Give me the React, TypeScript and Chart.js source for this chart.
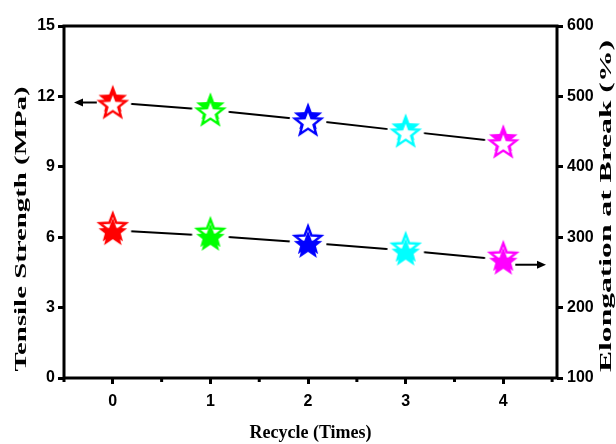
import React, { useEffect, useRef } from "react";
import { Chart, registerables } from "chart.js";
Chart.register(...registerables);

const recycleTimes = [0, 1, 2, 3, 4];
const xTickLabels = ["0", "1", "2", "3", "4"];
const tensileStrength = [11.74, 11.42, 10.99, 10.52, 10.06];
const elongationAtBreak = [310, 302, 292, 281, 268];
const pointColors = ["#ff0000", "#00ff00", "#0000ff", "#00ffff", "#ff00ff"];
const leftTickValues = [0, 3, 6, 9, 12, 15];
const rightTickValues = [100, 200, 300, 400, 500, 600];
const xTitle = "Recycle (Times)";
const leftTitle = "Tensile Strength (MPa)";
const rightTitle = "Elongation at Break (%)";

function starPath(ctx: CanvasRenderingContext2D, cx: number, cy: number, R: number, r: number) {
  ctx.beginPath();
  for (let i = 0; i < 10; i++) {
    const rad = i % 2 === 0 ? R : r;
    const a = -Math.PI / 2 + (i * Math.PI) / 5;
    const x = cx + rad * Math.cos(a);
    const y = cy + rad * Math.sin(a);
    if (i === 0) ctx.moveTo(x, y);
    else ctx.lineTo(x, y);
  }
  ctx.closePath();
}

function makeMarker(color: string, filledOnTop: boolean) {
  const size = 46;
  const c = document.createElement("canvas");
  c.width = size;
  c.height = size;
  const ctx = c.getContext("2d")!;
  const cx = size / 2;
  const cy = size / 2;
  ctx.fillStyle = "#ffffff";
  ctx.beginPath();
  ctx.arc(cx, cy, 18.5, 0, Math.PI * 2);
  ctx.fill();
  const R = 15;
  const off = 2.8;
  const filled = () => {
    starPath(ctx, cx, cy + (filledOnTop ? -off : off), R, R * 0.42);
    ctx.fillStyle = color;
    ctx.fill();
  };
  const open = () => {
    starPath(ctx, cx, cy + (filledOnTop ? off : -off), R - 1.2, (R - 1.2) * 0.42);
    ctx.fillStyle = "#ffffff";
    ctx.fill();
    ctx.lineWidth = 2.4;
    ctx.strokeStyle = color;
    ctx.lineJoin = "miter";
    ctx.stroke();
  };
  if (filledOnTop) {
    filled();
    open();
  } else {
    open();
    filled();
  }
  return c;
}

function arrow(ctx: CanvasRenderingContext2D, x1: number, y1: number, x2: number, y2: number) {
  const ang = Math.atan2(y2 - y1, x2 - x1);
  const L = 9;
  const W = 4;
  const bx = x2 - L * Math.cos(ang);
  const by = y2 - L * Math.sin(ang);
  ctx.strokeStyle = "#000";
  ctx.lineWidth = 2;
  ctx.beginPath();
  ctx.moveTo(x1, y1);
  ctx.lineTo(bx, by);
  ctx.stroke();
  ctx.fillStyle = "#000";
  ctx.beginPath();
  ctx.moveTo(x2, y2);
  ctx.lineTo(bx - W * Math.sin(ang), by + W * Math.cos(ang));
  ctx.lineTo(bx + W * Math.sin(ang), by - W * Math.cos(ang));
  ctx.closePath();
  ctx.fill();
}

function stretchedText(
  ctx: CanvasRenderingContext2D,
  text: string,
  x: number,
  y: number,
  rot: number,
  targetLen: number,
  size: number
) {
  ctx.save();
  ctx.translate(x, y);
  ctx.rotate(rot);
  ctx.font = `bold ${size}px 'Liberation Serif', 'Times New Roman', serif`;
  const w = ctx.measureText(text).width;
  ctx.scale(targetLen / w, 1);
  ctx.textAlign = "center";
  ctx.textBaseline = "middle";
  ctx.fillStyle = "#000";
  ctx.fillText(text, 0, 0);
  ctx.restore();
}

const decorPlugin = {
  id: "decor",
  afterDatasetsDraw(chart: any) {
    const { ctx, chartArea: a, scales } = chart;
    ctx.save();
    ctx.strokeStyle = "#000";
    ctx.lineWidth = 3;
    ctx.strokeRect(a.left, a.top, a.right - a.left, a.bottom - a.top);
    const xs = scales.x;
    for (let v = -0.5; v <= xs.max + 1e-9; v += 1) {
      const px = xs.getPixelForValue(v);
      ctx.beginPath();
      ctx.moveTo(px, a.bottom);
      ctx.lineTo(px, a.bottom + 4);
      ctx.stroke();
    }
    const p0 = chart.getDatasetMeta(0).data[0];
    arrow(ctx, p0.x - 16, p0.y, a.left + 10, p0.y);
    const d1 = chart.getDatasetMeta(1).data;
    const pl = d1[d1.length - 1];
    arrow(ctx, pl.x + 12, pl.y + 5, a.right - 11, pl.y + 5);
    ctx.restore();
  },
  afterDraw(chart: any) {
    const { ctx, chartArea: a } = chart;
    stretchedText(ctx, leftTitle, 22, 229, -Math.PI / 2, 285, 17);
    stretchedText(ctx, rightTitle, 607, 206, -Math.PI / 2, 332, 17);
    ctx.save();
    ctx.font = "bold 18px 'Liberation Serif', 'Times New Roman', serif";
    ctx.textAlign = "center";
    ctx.textBaseline = "middle";
    ctx.fillStyle = "#000";
    ctx.fillText(xTitle, (a.left + a.right) / 2, 433);
    ctx.restore();
  },
};

export default function App() {
  const ref = useRef<HTMLCanvasElement | null>(null);
  useEffect(() => {
    if (!ref.current) return;
    const topMarkers = pointColors.map((c) => makeMarker(c, true));
    const bottomMarkers = pointColors.map((c) => makeMarker(c, false));
    const tickFont = { family: "'Liberation Sans', Arial, sans-serif", size: 16, weight: "bold" as const };
    const gridCommon = {
      drawOnChartArea: false,
      drawTicks: true,
      tickLength: 6,
      tickWidth: 3,
      color: "#000",
    };
    const chart = new Chart(ref.current, {
      type: "line",
      data: {
        datasets: [
          {
            label: "Tensile Strength",
            data: recycleTimes.map((x, i) => ({ x, y: tensileStrength[i] })),
            yAxisID: "y",
            borderColor: "#000",
            borderWidth: 2,
            pointStyle: topMarkers as any,
            pointRadius: 12,
            fill: false,
          },
          {
            label: "Elongation at Break",
            data: recycleTimes.map((x, i) => ({ x, y: elongationAtBreak[i] })),
            yAxisID: "y1",
            borderColor: "#000",
            borderWidth: 2,
            pointStyle: bottomMarkers as any,
            pointRadius: 12,
            fill: false,
          },
        ],
      },
      options: {
        animation: false,
        responsive: false,
        devicePixelRatio: 1,
        events: [],
        layout: { padding: { top: 26, left: 0, right: 0, bottom: 0 } },
        plugins: { legend: { display: false }, tooltip: { enabled: false } },
        scales: {
          x: {
            type: "linear",
            min: -0.5,
            max: 4.55,
            afterBuildTicks: (s: any) => {
              s.ticks = recycleTimes.map((v) => ({ value: v }));
            },
            afterFit: (s: any) => {
              s.height = 66;
            },
            ticks: {
              callback: (v: any) => {
                const i = recycleTimes.indexOf(Number(v));
                return i >= 0 ? xTickLabels[i] : "";
              },
              font: tickFont,
              color: "#000",
              padding: 8,
              maxRotation: 0,
              autoSkip: false,
            },
            grid: gridCommon,
            border: { display: false },
          },
          y: {
            type: "linear",
            position: "left",
            min: 0,
            max: 15,
            afterBuildTicks: (s: any) => {
              s.ticks = leftTickValues.map((v) => ({ value: v }));
            },
            afterFit: (s: any) => {
              s.width = 64;
            },
            ticks: { font: tickFont, color: "#000", padding: 3 },
            grid: gridCommon,
            border: { display: false },
          },
          y1: {
            type: "linear",
            position: "right",
            min: 100,
            max: 600,
            afterBuildTicks: (s: any) => {
              s.ticks = rightTickValues.map((v) => ({ value: v }));
            },
            afterFit: (s: any) => {
              s.width = 59;
            },
            ticks: { font: tickFont, color: "#000", padding: 4 },
            grid: gridCommon,
            border: { display: false },
          },
        },
      },
      plugins: [decorPlugin],
    });
    return () => chart.destroy();
  }, []);
  return (
    <div style={{ position: "fixed", left: 0, top: 0, width: 616, height: 444, background: "#fff" }}>
      <canvas ref={ref} width={616} height={444} />
    </div>
  );
}
